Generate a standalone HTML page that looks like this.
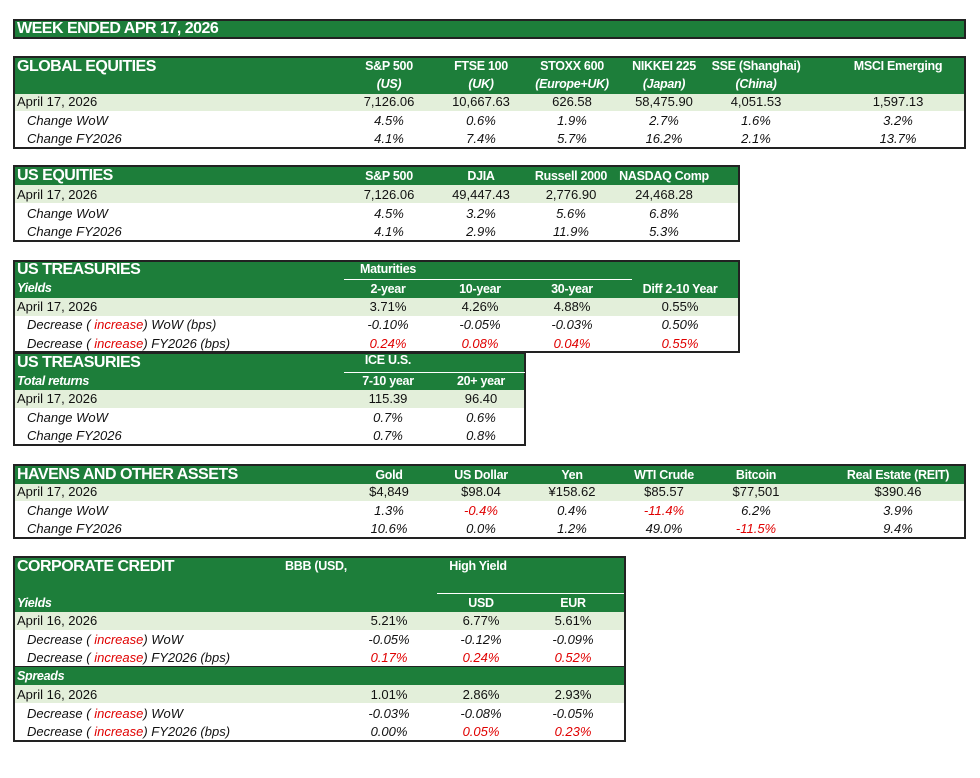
<!DOCTYPE html>
<html><head><meta charset="utf-8">
<style>
body{margin:0;background:#fff;width:980px;height:778px;position:relative;overflow:hidden;font-family:"Liberation Sans",sans-serif;}
.a{position:absolute;box-sizing:border-box;}
.t{position:absolute;height:18px;line-height:18px;font-size:13px;white-space:nowrap;color:#111;}
.c{transform:translateX(-50%);}
.h{color:#fff;font-weight:bold;font-size:12.5px;letter-spacing:-0.3px}
.ttl{color:#fff;font-weight:bold;font-size:16px;letter-spacing:-0.5px}
.i{font-style:italic}
.r{color:#e00000}
</style></head><body>
<script>
const G='#1d7e3a',L='#e3efda';
function rect(x,y,w,h,bg,border,name){
  const el=document.createElement('div');el.className='a';
  el.style.cssText+=`left:${x}px;top:${y}px;width:${w}px;height:${h}px;`+(bg?`background:${bg};`:'')+(border?`border:2px solid #222;`:'');
  
  
  document.body.appendChild(el);return el;
}
function txt(x,cy,s,cls,name){
  const el=document.createElement('div');el.className='t '+(cls||'');
  el.style.left=x+'px';el.style.top=(cy-9)+'px';el.innerHTML=s;
  
  
  document.body.appendChild(el);return el;
}
function line(x1,x2,y,name){
  const el=rect(x1,y,x2-x1,1,'#fff',false,name);
}
const RED=s=>s;
function lbl(s){return s.replace('(increase)','( <span class="r">increase</span>)');}
function row(cy,label,vals,cols,italic,name){
  txt(italic?27:17,cy,lbl(label),italic?'i':'',name+'-label');
  vals.forEach((v,k)=>{const red=v.startsWith('!');txt(cols[k],cy,red?v.slice(1):v,'c'+(italic?' i':'')+(red?' r':''),name+'-value');});
}
// title
rect(13,19,953,20,G,true,'week-title-bar');
txt(17,29,'WEEK ENDED APR 17, 2026','ttl','week-title');

// global equities
const geCols=[389,481,572,664,756,898];
const geHead=['S&amp;P 500','FTSE 100','STOXX 600','NIKKEI 225','SSE (Shanghai)','MSCI Emerging'];
const geSub=['(US)','(UK)','(Europe+UK)','(Japan)','(China)',''];
const geLevel=['7,126.06','10,667.63','626.58','58,475.90','4,051.53','1,597.13'];
const geWow=['4.5%','0.6%','1.9%','2.7%','1.6%','3.2%'];
const geFy=['4.1%','7.4%','5.7%','16.2%','2.1%','13.7%'];
rect(13,56,953,93,'#fff',true,'global-equities-table');
rect(15,58,949,36,G,false,'global-equities-header');
rect(15,94,949,17,L,false,'global-equities-level-row');
txt(17,67,'GLOBAL EQUITIES','ttl','global-equities-title');
geHead.forEach((s,k)=>txt(geCols[k],66,s,'c h','column-header'));
geSub.forEach((s,k)=>txt(geCols[k],84,s,'c h i','column-subheader'));
row(102,'April 17, 2026',geLevel,geCols,false,'ge-level');
row(121,'Change WoW',geWow,geCols,true,'ge-wow');
row(139,'Change FY2026',geFy,geCols,true,'ge-fy');

// US equities
const ueCols=[389,481,571,664];
const ueHead=['S&amp;P 500','DJIA','Russell 2000','NASDAQ Comp'];
const ueLevel=['7,126.06','49,447.43','2,776.90','24,468.28'];
const ueWow=['4.5%','3.2%','5.6%','6.8%'];
const ueFy=['4.1%','2.9%','11.9%','5.3%'];
rect(13,165,727,77,'#fff',true,'us-equities-table');
rect(15,167,723,18,G,false,'us-equities-header');
rect(15,185,723,18,L,false,'us-equities-level-row');
txt(17,176,'US EQUITIES','ttl','us-equities-title');
ueHead.forEach((s,k)=>txt(ueCols[k],176,s,'c h','column-header'));
row(195,'April 17, 2026',ueLevel,ueCols,false,'ue-level');
row(214,'Change WoW',ueWow,ueCols,true,'ue-wow');
row(232,'Change FY2026',ueFy,ueCols,true,'ue-fy');

// US treasuries yields
const tyCols=[388,480,572,680];
const tyHead=['2-year','10-year','30-year','Diff 2-10 Year'];
const tyLevel=['3.71%','4.26%','4.88%','0.55%'];
const tyWow=['-0.10%','-0.05%','-0.03%','0.50%'];
const tyFy=['!0.24%','!0.08%','!0.04%','!0.55%'];
rect(13,260,727,93,'#fff',true,'us-treasuries-yields-table');
rect(15,262,723,36,G,false,'us-treasuries-header');
rect(15,298,723,18,L,false,'us-treasuries-level-row');
txt(17,270,'US TREASURIES','ttl','us-treasuries-title');
txt(388,269,'Maturities','c h','maturities-header');
line(344,632,279,'maturities-underline');
txt(17,288,'Yields','h i','yields-label');
tyHead.forEach((s,k)=>txt(tyCols[k],289,s,'c h','column-header'));
row(307,'April 17, 2026',tyLevel,tyCols,false,'ty-level');
row(325,'Decrease (increase) WoW (bps)',tyWow,tyCols,true,'ty-wow');
row(344,'Decrease (increase) FY2026 (bps)',tyFy,tyCols,true,'ty-fy');

// US treasuries returns
const trCols=[388,481];
const trHead=['7-10 year','20+ year'];
const trLevel=['115.39','96.40'];
const trWow=['0.7%','0.6%'];
const trFy=['0.7%','0.8%'];
rect(13,352,513,94,'#fff',true,'us-treasuries-returns-table');
rect(15,354,509,36,G,false,'us-treasuries-returns-header');
rect(15,390,509,18,L,false,'us-treasuries-returns-level-row');
txt(17,363,'US TREASURIES','ttl','us-treasuries-returns-title');
txt(388,360,'ICE U.S.','c h','ice-header');
line(344,525,372,'ice-underline');
txt(17,381,'Total returns','h i','total-returns-label');
trHead.forEach((s,k)=>txt(trCols[k],381,s,'c h','column-header'));
row(399,'April 17, 2026',trLevel,trCols,false,'tr-level');
row(418,'Change WoW',trWow,trCols,true,'tr-wow');
row(436,'Change FY2026',trFy,trCols,true,'tr-fy');

// havens
const hvCols=[389,481,572,664,756,898];
const hvHead=['Gold','US Dollar','Yen','WTI Crude','Bitcoin','Real Estate (REIT)'];
const hvLevel=['$4,849','$98.04','¥158.62','$85.57','$77,501','$390.46'];
const hvWow=['1.3%','!-0.4%','0.4%','!-11.4%','6.2%','3.9%'];
const hvFy=['10.6%','0.0%','1.2%','49.0%','!-11.5%','9.4%'];
rect(13,464,953,75,'#fff',true,'havens-table');
rect(15,466,949,18,G,false,'havens-header');
rect(15,484,949,17,L,false,'havens-level-row');
txt(17,475,'HAVENS AND OTHER ASSETS','ttl','havens-title');
hvHead.forEach((s,k)=>txt(hvCols[k],475,s,'c h','column-header'));
row(492,'April 17, 2026',hvLevel,hvCols,false,'hv-level');
row(511,'Change WoW',hvWow,hvCols,true,'hv-wow');
row(529,'Change FY2026',hvFy,hvCols,true,'hv-fy');

// corporate credit
const ccCols=[389,481,573];
const ccYLevel=['5.21%','6.77%','5.61%'];
const ccYWow=['-0.05%','-0.12%','-0.09%'];
const ccYFy=['!0.17%','!0.24%','!0.52%'];
const ccSLevel=['1.01%','2.86%','2.93%'];
const ccSWow=['-0.03%','-0.08%','-0.05%'];
const ccSFy=['0.00%','!0.05%','!0.23%'];
rect(13,556,613,186,'#fff',true,'corporate-credit-table');
rect(15,558,609,54,G,false,'corporate-credit-header');
rect(15,612,609,18,L,false,'cc-yield-level-row');
rect(15,667,609,18,G,false,'spreads-header');
rect(15,685,609,18,L,false,'cc-spread-level-row');
rect(15,666,609,1,'#222',false,'spreads-divider');
txt(17,567,'CORPORATE CREDIT','ttl','corporate-credit-title');
txt(316,566,'BBB (USD,','c h','bbb-header');
txt(478,566,'High Yield','c h','high-yield-header');
line(437,624,593,'high-yield-underline');
txt(17,603,'Yields','h i','cc-yields-label');
txt(481,603,'USD','c h','column-header');
txt(573,603,'EUR','c h','column-header');
row(621,'April 16, 2026',ccYLevel,ccCols,false,'cc-y-level');
row(640,'Decrease (increase) WoW',ccYWow,ccCols,true,'cc-y-wow');
row(658,'Decrease (increase) FY2026 (bps)',ccYFy,ccCols,true,'cc-y-fy');
txt(17,676,'Spreads','h i','spreads-label');
row(695,'April 16, 2026',ccSLevel,ccCols,false,'cc-s-level');
row(714,'Decrease (increase) WoW',ccSWow,ccCols,true,'cc-s-wow');
row(732,'Decrease (increase) FY2026 (bps)',ccSFy,ccCols,true,'cc-s-fy');
</script>
</body></html>
